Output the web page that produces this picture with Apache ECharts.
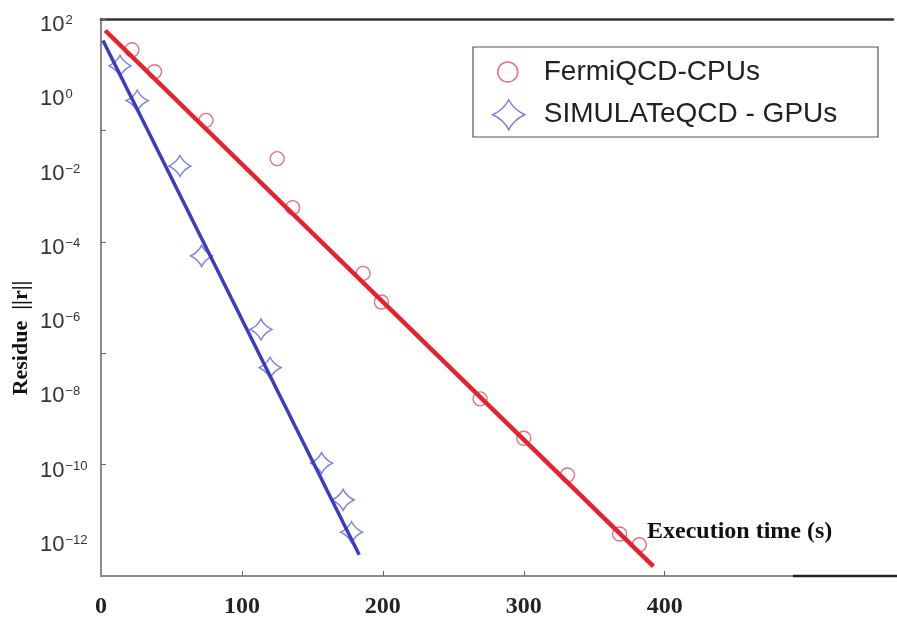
<!DOCTYPE html>
<html>
<head>
<meta charset="utf-8">
<script src="https://cdn.jsdelivr.net/npm/echarts@6/dist/echarts.min.js"></script>
<style>
  html, body { margin: 0; padding: 0; background: #fff; }
  #chart { width: 897px; height: 622px; }
</style>
</head>
<body>
<div id="chart"></div>
<script>
// execution time (s) and log10 of the residue
const cpuTime = [22, 38, 74.5, 125, 136, 186, 199, 269, 300, 331, 368, 382];
const cpuLogResidue = [1.17, 0.58, -0.73, -1.76, -3.08, -4.85, -5.62, -8.23, -9.29, -10.28, -11.87, -12.16];
const gpuTime = [13.5, 25.7, 56, 71.4, 113.5, 120, 156.5, 171.8, 177.8];
const gpuLogResidue = [0.74, -0.2, -1.96, -4.38, -6.36, -7.39, -9.96, -10.95, -11.82];

// fitted straight lines (end points)
const cpuFitTime = [3, 392];
const cpuFitLog = [1.69, -12.74];
const gpuFitTime = [1.4, 183.2];
const gpuFitLog = [1.42, -12.43];

const xTickLabels = [0, 100, 200, 300, 400];
const yLabelExponents = [2, 0, -2, -4, -6, -8, -10, -12];
const yTickExponents = [2, -1, -4, -7, -10];

const STAR = "path://M16,0 Q21,10 32,15 Q21,20 16,30 Q11,20 0,15 Q11,10 16,0 Z";

function pairs(xs, ys) {
  return xs.map((x, i) => [x, ys[i]]);
}

const chart = echarts.init(document.getElementById("chart"));

chart.setOption({
  animation: false,
  grid: { left: 101, right: 4, top: 19, bottom: 46 },
  legend: [
    {
      left: 497,
      top: 58,
      padding: 0,
      itemWidth: 20,
      itemHeight: 20,
      textStyle: { fontFamily: "Liberation Sans", fontSize: 28, color: "#222", padding: [0, 0, 0, 21] },
      data: [{
        name: "FermiQCD-CPUs",
        icon: "circle",
        itemStyle: { color: "transparent", borderColor: "#d9505e", borderWidth: 1.5 }
      }]
    },
    {
      left: 492,
      top: 99,
      padding: 0,
      itemWidth: 32,
      itemHeight: 30,
      textStyle: { fontFamily: "Liberation Sans", fontSize: 28, color: "#222", padding: [0, 0, 0, 14] },
      data: [{
        name: "SIMULATeQCD - GPUs",
        icon: STAR,
        itemStyle: { color: "transparent", borderColor: "#5a60d6", borderWidth: 1.5 }
      }]
    }
  ],
  xAxis: [
    {
      type: "value",
      min: 0,
      max: 562,
      splitLine: { show: false },
      axisLine: { onZero: false, lineStyle: { color: "#8a8a8a", width: 2 } },
      axisTick: { inside: true, length: 5, lineStyle: { color: "#666" }, customValues: [100, 200, 300, 400] },
      axisLabel: {
        customValues: xTickLabels,
        margin: 19,
        fontFamily: "Liberation Serif",
        fontWeight: "bold",
        fontSize: 24,
        color: "#222"
      }
    },
    {
      type: "value",
      position: "top",
      min: 0,
      max: 562,
      splitLine: { show: false },
      axisLine: { onZero: false, lineStyle: { color: "#333", width: 2.5 } },
      axisTick: { show: false },
      axisLabel: { show: false }
    }
  ],
  yAxis: {
    type: "value",
    min: -13,
    max: 2,
    splitLine: { show: false },
    axisLine: { onZero: false, lineStyle: { color: "#8a8a8a", width: 2 } },
    axisTick: { inside: true, length: 5, lineStyle: { color: "#666" }, customValues: yTickExponents },
    axisLabel: {
      customValues: yLabelExponents,
      align: "left",
      margin: 61,
      padding: [12, 0, 0, 0],
      formatter: v => "{b|10}{s|" + String(v).replace("-", "\u2212") + "}",
      rich: {
        b: { fontFamily: "Liberation Sans", fontSize: 22, lineHeight: 22, color: "#333", verticalAlign: "bottom" },
        s: { fontFamily: "Liberation Sans", fontSize: 13, lineHeight: 13, color: "#333", verticalAlign: "top", padding: [0, 0, 15, 1] }
      }
    }
  },
  graphic: [
    {
      type: "text",
      x: 21,
      y: 338,
      rotation: Math.PI / 2,
      style: {
        text: "Residue  ||r||",
        fontFamily: "Liberation Serif",
        fontWeight: "bold",
        fontSize: 22,
        fill: "#111",
        align: "center",
        verticalAlign: "middle"
      }
    },
    {
      type: "text",
      x: 647,
      y: 532,
      style: {
        text: "Execution time (s)",
        fontFamily: "Liberation Serif",
        fontWeight: "bold",
        fontSize: 24,
        fill: "#111",
        align: "left",
        verticalAlign: "middle"
      }
    },
    {
      type: "rect",
      shape: { x: 473, y: 47, width: 405, height: 90 },
      style: { fill: "none", stroke: "#555", lineWidth: 1.2 }
    },
    {
      type: "line",
      z: 100,
      shape: { x1: 793, y1: 576, x2: 897, y2: 576 },
      style: { stroke: "#222", lineWidth: 2.5 }
    }
  ],
  series: [
    {
      name: "FermiQCD-CPUs",
      type: "scatter",
      symbol: "circle",
      symbolSize: 14,
      itemStyle: { color: "transparent", borderColor: "#d9505e", borderWidth: 1.4 },
      data: pairs(cpuTime, cpuLogResidue),
      z: 3
    },
    {
      name: "SIMULATeQCD - GPUs",
      type: "scatter",
      symbol: STAR,
      symbolSize: [22, 21],
      itemStyle: { color: "transparent", borderColor: "#5a60d6", borderWidth: 1.4 },
      data: pairs(gpuTime, gpuLogResidue),
      z: 3
    },
    {
      name: "cpu fit",
      type: "line",
      showSymbol: false,
      symbol: "none",
      lineStyle: { color: "#e5222d", width: 4.5 },
      data: pairs(cpuFitTime, cpuFitLog),
      z: 4
    },
    {
      name: "gpu fit",
      type: "line",
      showSymbol: false,
      symbol: "none",
      lineStyle: { color: "#3a3dbd", width: 3.5 },
      data: pairs(gpuFitTime, gpuFitLog),
      z: 4
    }
  ]
});
</script>
</body>
</html>
